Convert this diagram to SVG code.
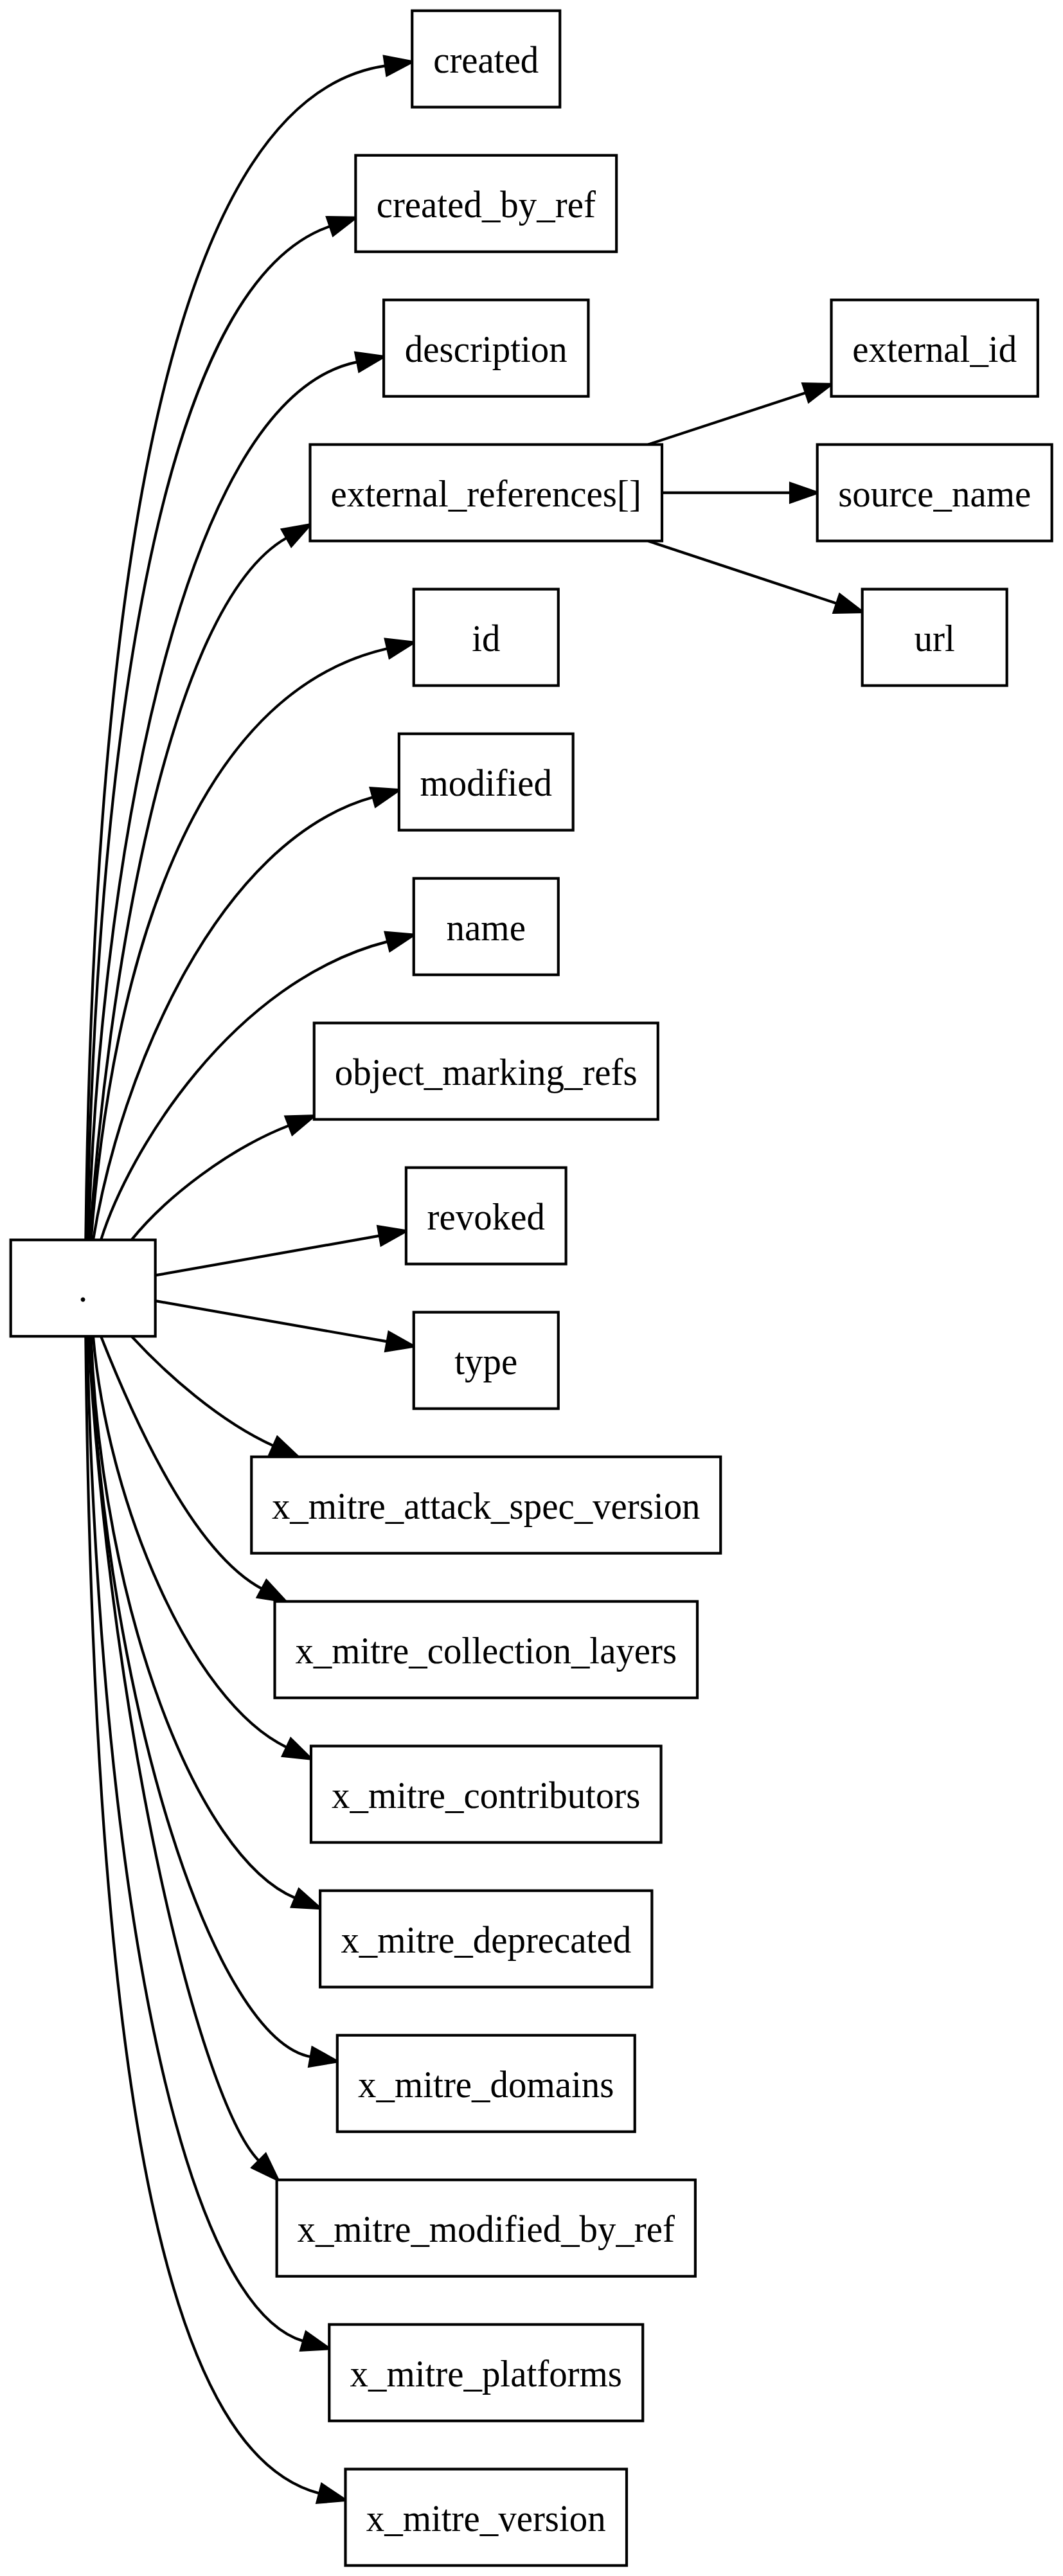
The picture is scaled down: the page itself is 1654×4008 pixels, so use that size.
<svg xmlns="http://www.w3.org/2000/svg" width="1654" height="4008" viewBox="0 0 1654 4008">
<style>
.node rect{fill:#fff;stroke:#000;stroke-width:1}
.node text{font-family:"Liberation Serif","Times New Roman",serif;font-size:14px;text-anchor:middle;fill:#000}
.edges path{fill:none;stroke:#000;stroke-width:1}
.edges polygon{fill:#000;stroke:#000;stroke-width:1}
</style>
<rect x="0" y="0" width="1654" height="4008" fill="#fff"/>
<g transform="scale(4.166667)">
<g class="edges" id="connectors">
<path d="M32,463 C34.5,250 56,37 144,24.57"/><polygon points="144.51,28.03 153.9,23.1 143.49,21.11"/>
<path d="M32.5,463 C36,290 57,106.8 123.3,84.49"/><polygon points="124.42,87.81 132.8,81.3 122.18,81.17"/>
<path d="M33,463 C37,335 64.8,148.9 133.49,135.16"/><polygon points="134.18,138.59 143.3,133.2 132.8,131.73"/>
<path d="M33.5,463 C40,370 61.8,226.3 107.09,200.81"/><polygon points="108.81,203.86 115.8,195.9 105.37,197.76"/>
<path d="M34,463 C42,360 71.6,258.9 144.75,242.14"/><polygon points="145.53,245.55 154.5,239.9 143.97,238.73"/>
<path d="M34.8,463 C45,400 81.6,313.7 139.36,297.67"/><polygon points="140.29,301.04 149,295 138.43,294.3"/>
<path d="M37.7,463 C48,430 86.7,366.4 144.81,351.57"/><polygon points="145.67,354.96 154.5,349.1 143.95,348.18"/>
<path d="M49.1,463 C62,447 85.6,428.9 107.96,420.27"/><polygon points="109.21,423.54 117.3,416.7 106.71,417"/>
<path d="M58.2,476.2 L141.8,461.44"/><polygon points="142.41,464.89 151.65,459.7 141.19,457.99"/>
<path d="M58.2,485.8 L144.65,500.97"/><polygon points="144.04,504.42 154.5,502.7 145.26,497.52"/>
<path d="M49.1,499 C62,513 82.1,530.9 102.17,539.92"/><polygon points="100.74,543.12 111.3,544 103.6,536.72"/>
<path d="M37.7,499 C46,520 69.6,578.3 97.87,593.3"/><polygon points="96.23,596.39 106.7,598 99.52,590.21"/>
<path d="M34.8,499 C40,560 71,635.3 107.12,652.51"/><polygon points="105.62,655.67 116.15,656.8 108.62,649.35"/>
<path d="M34,499 C38,600 73.3,693.5 110.31,708.77"/><polygon points="108.97,712 119.55,712.6 111.65,705.54"/>
<path d="M33.5,499 C40,640 80.6,761.8 116.1,768.07"/><polygon points="115.49,771.52 125.95,769.8 116.71,764.62"/>
<path d="M33,499 C42,650 75,785 96.73,806.93"/><polygon points="94.26,809.4 103.8,814 99.2,804.46"/>
<path d="M32.5,499 C38,720 70.1,861.8 113.34,874.23"/><polygon points="112.37,877.59 122.95,877 114.31,870.87"/>
<path d="M32,499 C35,800 66.1,917.3 119.32,931.09"/><polygon points="118.44,934.48 129,933.6 120.2,927.7"/>
<path d="M242,166 L300.95,146.62"/><polygon points="302.04,149.95 310.45,143.5 299.86,143.3"/>
<path d="M247.2,184 L295.2,184"/><polygon points="295.2,187.5 305.2,184 295.2,180.5"/>
<path d="M242,202 L312.51,225.36"/><polygon points="311.41,228.68 322,228.5 313.61,222.04"/>
</g>
<g class="node" id="root"><rect x="4" y="463" width="54" height="36"/><text x="31" y="486">.</text></g>
<g class="node" id="created"><rect x="153.9" y="4" width="55.2" height="36"/><text x="181.5" y="27" textLength="39.4" lengthAdjust="spacingAndGlyphs">created</text></g>
<g class="node" id="created_by_ref"><rect x="132.8" y="58" width="97.4" height="36"/><text x="181.5" y="81" textLength="81.9" lengthAdjust="spacingAndGlyphs">created_by_ref</text></g>
<g class="node" id="description"><rect x="143.3" y="112" width="76.4" height="36"/><text x="181.5" y="135" textLength="60.7" lengthAdjust="spacingAndGlyphs">description</text></g>
<g class="node" id="external_references"><rect x="115.8" y="166" width="131.4" height="36"/><text x="181.5" y="189" textLength="116" lengthAdjust="spacingAndGlyphs">external_references[]</text></g>
<g class="node" id="id"><rect x="154.5" y="220" width="54" height="36"/><text x="181.5" y="243" textLength="10.6" lengthAdjust="spacingAndGlyphs">id</text></g>
<g class="node" id="modified"><rect x="149" y="274" width="65" height="36"/><text x="181.5" y="297" textLength="49.3" lengthAdjust="spacingAndGlyphs">modified</text></g>
<g class="node" id="name"><rect x="154.5" y="328" width="54" height="36"/><text x="181.5" y="351" textLength="29.6" lengthAdjust="spacingAndGlyphs">name</text></g>
<g class="node" id="object_marking_refs"><rect x="117.3" y="382" width="128.4" height="36"/><text x="181.5" y="405" textLength="113" lengthAdjust="spacingAndGlyphs">object_marking_refs</text></g>
<g class="node" id="revoked"><rect x="151.65" y="436" width="59.7" height="36"/><text x="181.5" y="459" textLength="44" lengthAdjust="spacingAndGlyphs">revoked</text></g>
<g class="node" id="type"><rect x="154.5" y="490" width="54" height="36"/><text x="181.5" y="513" textLength="23.5" lengthAdjust="spacingAndGlyphs">type</text></g>
<g class="node" id="x_mitre_attack_spec_version"><rect x="93.9" y="544" width="175.2" height="36"/><text x="181.5" y="567" textLength="160" lengthAdjust="spacingAndGlyphs">x_mitre_attack_spec_version</text></g>
<g class="node" id="x_mitre_collection_layers"><rect x="102.6" y="598" width="157.8" height="36"/><text x="181.5" y="621" textLength="142.5" lengthAdjust="spacingAndGlyphs">x_mitre_collection_layers</text></g>
<g class="node" id="x_mitre_contributors"><rect x="116.15" y="652" width="130.7" height="36"/><text x="181.5" y="675" textLength="115.3" lengthAdjust="spacingAndGlyphs">x_mitre_contributors</text></g>
<g class="node" id="x_mitre_deprecated"><rect x="119.55" y="706" width="123.9" height="36"/><text x="181.5" y="729" textLength="108.4" lengthAdjust="spacingAndGlyphs">x_mitre_deprecated</text></g>
<g class="node" id="x_mitre_domains"><rect x="125.95" y="760" width="111.1" height="36"/><text x="181.5" y="783" textLength="95.6" lengthAdjust="spacingAndGlyphs">x_mitre_domains</text></g>
<g class="node" id="x_mitre_modified_by_ref"><rect x="103.35" y="814" width="156.3" height="36"/><text x="181.5" y="837" textLength="141" lengthAdjust="spacingAndGlyphs">x_mitre_modified_by_ref</text></g>
<g class="node" id="x_mitre_platforms"><rect x="122.95" y="868" width="117.1" height="36"/><text x="181.5" y="891" textLength="101.6" lengthAdjust="spacingAndGlyphs">x_mitre_platforms</text></g>
<g class="node" id="x_mitre_version"><rect x="129" y="922" width="105" height="36"/><text x="181.5" y="945" textLength="89.5" lengthAdjust="spacingAndGlyphs">x_mitre_version</text></g>
<g class="node" id="external_id"><rect x="310.45" y="112" width="77.1" height="36"/><text x="349" y="135" textLength="61.4" lengthAdjust="spacingAndGlyphs">external_id</text></g>
<g class="node" id="source_name"><rect x="305.2" y="166" width="87.6" height="36"/><text x="349" y="189" textLength="72" lengthAdjust="spacingAndGlyphs">source_name</text></g>
<g class="node" id="url"><rect x="322" y="220" width="54" height="36"/><text x="349" y="243" textLength="15.2" lengthAdjust="spacingAndGlyphs">url</text></g>
</g>
</svg>
